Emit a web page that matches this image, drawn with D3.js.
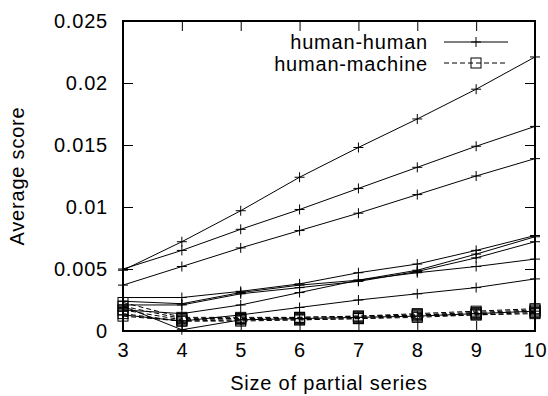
<!DOCTYPE html>
<html lang="en">
<head>
<meta charset="UTF-8">
<title>Average score vs size of partial series</title>
<script src="https://cdn.jsdelivr.net/npm/d3@7/dist/d3.min.js"></script>
<style>
  body { margin: 0; background: #fff; }
  svg { display: block; }
  text { font-family: "Liberation Sans", Arial, sans-serif; font-size: 20px; letter-spacing: 0.8px; fill: #000; }
</style>
</head>
<body>
<svg width="548" height="396"></svg>
<script>
// data
var sizes = [3, 4, 5, 6, 7, 8, 9, 10];
var yTicks = [0, 0.005, 0.01, 0.015, 0.02, 0.025];
var yTickLabels = ["0", "0.005", "0.01", "0.015", "0.02", "0.025"];

// human-human runs (solid, + markers)
var hh1 = [0.0049, 0.0072, 0.0097, 0.0124, 0.0148, 0.0171, 0.0195, 0.0221];
var hh2 = [0.0050, 0.0065, 0.0082, 0.0098, 0.0115, 0.0132, 0.0149, 0.0165];
var hh3 = [0.0037, 0.0052, 0.0067, 0.0081, 0.0095, 0.0110, 0.0125, 0.0139];
var hh4 = [0.0027, 0.0027, 0.0032, 0.0038, 0.0047, 0.0054, 0.0065, 0.0077];
var hh5 = [0.0024, 0.0022, 0.0031, 0.0037, 0.0041, 0.0049, 0.0062, 0.0076];
var hh6 = [0.0021, 0.0021, 0.0030, 0.0035, 0.0040, 0.0048, 0.0059, 0.0072];
var hh7 = [0.0017, 0.0014, 0.0021, 0.0031, 0.0041, 0.0047, 0.0052, 0.0058];
var hh8 = [0.0013, 0.0008, 0.0013, 0.0019, 0.0025, 0.0030, 0.0035, 0.0042];
var hh9 = [0.0020, 0.0001, 0.0009, 0.0010, 0.0011, 0.0012, 0.0014, 0.0016];

// human-machine runs (dashed, box markers)
var hm1 = [0.0023, 0.0011, 0.0011, 0.0011, 0.0012, 0.0014, 0.0016, 0.0018];
var hm2 = [0.0020, 0.0010, 0.0010, 0.0011, 0.0012, 0.0013, 0.0015, 0.0017];
var hm3 = [0.0017, 0.0009, 0.0010, 0.0010, 0.0011, 0.0013, 0.0014, 0.0016];
var hm4 = [0.0014, 0.0008, 0.0009, 0.0009, 0.0010, 0.0012, 0.0013, 0.0015];
var hm5 = [0.0012, 0.0008, 0.0008, 0.0009, 0.0010, 0.0011, 0.0013, 0.0014];

var humanHuman = [hh1, hh2, hh3, hh4, hh5, hh6, hh7, hh8, hh9];
var humanMachine = [hm1, hm2, hm3, hm4, hm5];

var svg = d3.select("svg");
var plotL = 123, plotR = 535, plotT = 21, plotB = 331;

var x = d3.scaleLinear().domain([3, 10]).range([plotL, plotR]);
var y = d3.scaleLinear().domain([0, 0.025]).range([plotB, plotT]);

// axes, ticks pointing inward (gnuplot style)
function tidy(g) {
  g.select(".domain").remove();
  g.selectAll("line").attr("stroke", "#000").attr("stroke-width", 1);
  g.selectAll("text").attr("font-family", null).attr("font-size", null);
}
svg.append("g").attr("transform", "translate(" + plotL + ",0)")
  .call(d3.axisLeft(y).tickValues(yTicks).tickSize(-10).tickPadding(15)
    .tickFormat(function(d, i) { return yTickLabels[i]; }))
  .call(tidy);
svg.append("g").attr("transform", "translate(" + plotR + ",0)")
  .call(d3.axisRight(y).tickValues(yTicks).tickSize(-10).tickFormat(""))
  .call(tidy);
svg.append("g").attr("transform", "translate(0," + plotB + ")")
  .call(d3.axisBottom(x).tickValues(sizes).tickSize(-10).tickPadding(12)
    .tickFormat(d3.format("d")))
  .call(tidy);
svg.append("g").attr("transform", "translate(0," + plotT + ")")
  .call(d3.axisTop(x).tickValues(sizes).tickSize(-10).tickFormat(""))
  .call(tidy);

// series
var line = d3.line().x(function(d, i) { return x(sizes[i]); }).y(function(d) { return y(d); });
var plot = svg.append("g");

function plus(g, cx, cy) {
  g.append("path").attr("d", "M" + (cx - 5) + "," + cy + "h10M" + cx + "," + (cy - 5) + "v10")
    .attr("stroke", "#000").attr("stroke-width", 1).attr("fill", "none");
}
function box(g, cx, cy) {
  g.append("rect").attr("x", cx - 5).attr("y", cy - 5).attr("width", 10).attr("height", 10)
    .attr("stroke", "#000").attr("stroke-width", 1).attr("fill", "none");
}

humanHuman.forEach(function(s) {
  plot.append("path").datum(s).attr("d", line)
    .attr("fill", "none").attr("stroke", "#000").attr("stroke-width", 1);
  s.forEach(function(v, i) { plus(plot, x(sizes[i]), y(v)); });
});
humanMachine.forEach(function(s) {
  plot.append("path").datum(s).attr("d", line)
    .attr("fill", "none").attr("stroke", "#000").attr("stroke-width", 1)
    .attr("stroke-dasharray", "5,3");
  s.forEach(function(v, i) { box(plot, x(sizes[i]), y(v)); });
});

// frame
svg.append("rect").attr("x", plotL).attr("y", plotT)
  .attr("width", plotR - plotL).attr("height", plotB - plotT)
  .attr("fill", "none").attr("stroke", "#000").attr("stroke-width", 2);

// key
var key = svg.append("g");
key.append("text").attr("x", 428).attr("y", 49).attr("text-anchor", "end").text("human-human");
key.append("line").attr("x1", 444).attr("x2", 508).attr("y1", 42).attr("y2", 42)
  .attr("stroke", "#000").attr("stroke-width", 1);
plus(key, 476, 42);
key.append("text").attr("x", 428).attr("y", 71).attr("text-anchor", "end").text("human-machine");
key.append("line").attr("x1", 444).attr("x2", 508).attr("y1", 63).attr("y2", 63)
  .attr("stroke", "#000").attr("stroke-width", 1).attr("stroke-dasharray", "5,3");
box(key, 476, 63);

// titles
svg.append("text").attr("x", (plotL + plotR) / 2).attr("y", 390)
  .attr("text-anchor", "middle").text("Size of partial series");
svg.append("text").attr("transform", "translate(24," + (plotT + plotB) / 2 + ") rotate(-90)")
  .attr("text-anchor", "middle").text("Average score");
</script>
</body>
</html>
